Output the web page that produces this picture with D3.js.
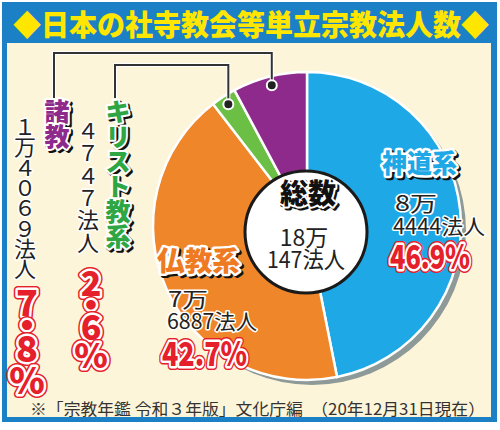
<!DOCTYPE html>
<html>
<head>
<meta charset="utf-8">
<script src="https://cdn.jsdelivr.net/npm/d3@7"></script>
<style>
  body { margin: 0; background: #fff; }
  svg { display: block; font-family: "Noto Sans CJK JP", sans-serif; }
</style>
</head>
<body>
<svg id="chart" width="500" height="430"></svg>
<script>
// data
var categories = ['神道系', '仏教系', 'キリスト教系', '諸教'];
var counts = [84444, 76887, 4747, 14069];
var shares = [46.9, 42.7, 2.6, 7.8];
var total = 180147;
var colors = ['#1ea8e6', '#f0862a', '#6cbf45', '#8e2a8c'];
var catColors = ['#1ea8e6', '#ee7a22', '#2fa644', '#8e2a8c'];

var svg = d3.select('#chart');

// frame
svg.append('rect').attr('x', 2).attr('y', 2).attr('width', 495).attr('height', 420)
  .attr('fill', '#1b80c6');
svg.append('rect').attr('x', 7).attr('y', 43).attr('width', 484).attr('height', 374)
  .attr('fill', '#fdf5da');

svg.append('text')
  .attr('x', 251).attr('y', 36)
  .attr('text-anchor', 'middle')
  .attr('font-size', 29).attr('font-weight', 900)
  .attr('fill', '#ffe600')
  .attr('textLength', 476).attr('lengthAdjust', 'spacingAndGlyphs')
  .text('◆日本の社寺教会等単立宗教法人数◆');

// helpers
function toZen(s) {
  return String(s).replace(/[0-9]/g, function(c) {
    return String.fromCharCode(c.charCodeAt(0) + 0xFEE0);
  });
}
function man(c) { return Math.floor(c / 10000) + '万'; }
function rest(c) { return (c % 10000) + '法人'; }

// layered text: shadow / outline / fill
function label(g, x, y, str, opt) {
  var layers = [];
  if (opt.shadow) layers.push({dx: 2, dy: 2, fill: '#111', stroke: '#111', sw: opt.sw});
  if (opt.outer) layers.push({dx: 0, dy: 0, fill: opt.outer, stroke: opt.outer, sw: opt.sw + 3});
  layers.push({dx: 0, dy: 0, fill: opt.halo || '#fff', stroke: opt.halo || '#fff', sw: opt.sw});
  layers.push({dx: 0, dy: 0, fill: opt.fill, stroke: 'none', sw: 0});
  layers.forEach(function(l) {
    var t = g.append('text')
      .attr('x', x + l.dx).attr('y', y + l.dy)
      .attr('text-anchor', opt.anchor || 'start')
      .attr('dominant-baseline', opt.baseline || 'auto')
      .attr('font-size', opt.size)
      .attr('font-weight', opt.weight || 400)
      .attr('fill', l.fill)
      .attr('stroke', l.stroke)
      .attr('stroke-width', l.sw)
      .attr('stroke-linejoin', 'round')
      .text(str);
    if (opt.len) t.attr('textLength', opt.len).attr('lengthAdjust', 'spacingAndGlyphs');
  });
}

// pie
var cx = 307, cy = 226, r = 154;
var pie = d3.pie().sort(null).value(function(d) { return d; });
var arcs = pie(counts);
var arc = d3.arc().innerRadius(0).outerRadius(r);
var dotArc = d3.arc().innerRadius(145).outerRadius(145);

svg.append('circle').attr('cx', cx + 5).attr('cy', cy + 5).attr('r', r)
  .attr('fill', '#8d9a97');

var pg = svg.append('g').attr('transform', 'translate(' + cx + ',' + cy + ')');
pg.selectAll('path')
  .data(arcs)
  .enter()
  .append('path')
    .attr('d', arc)
    .attr('fill', function(d, i) { return colors[i]; })
    .attr('stroke', '#fff')
    .attr('stroke-width', 2.5);

// leader lines to the two small slices
var leaders = [
  {i: 3, x: 54, top: 53},
  {i: 2, x: 115, top: 65}
];
leaders.forEach(function(l) {
  var c = dotArc.centroid(arcs[l.i]);
  var px = cx + c[0], py = cy + c[1];
  var pts = [[l.x, 98], [l.x, l.top], [px, l.top], [px, py]];
  svg.append('path').attr('d', d3.line()(pts))
    .attr('fill', 'none').attr('stroke', '#fff').attr('stroke-width', 4);
  svg.append('path').attr('d', d3.line()(pts))
    .attr('fill', 'none').attr('stroke', '#333').attr('stroke-width', 2);
  svg.append('circle').attr('cx', px).attr('cy', py).attr('r', 5)
    .attr('fill', '#222').attr('stroke', '#fff').attr('stroke-width', 2);
});

// center circle
svg.append('circle').attr('cx', 306).attr('cy', 232).attr('r', 61)
  .attr('fill', '#fff').attr('stroke', '#1a1a1a').attr('stroke-width', 3);
label(svg, 308, 204, '総数', {size: 28, weight: 900, fill: '#111', shadow: true, sw: 4, anchor: 'middle'});
svg.append('text').attr('x', 304).attr('y', 246).attr('text-anchor', 'middle')
  .attr('font-size', 23).attr('fill', '#222').text(man(total));
svg.append('text').attr('x', 306).attr('y', 268).attr('text-anchor', 'middle')
  .attr('font-size', 23).attr('fill', '#222')
  .attr('textLength', 78).attr('lengthAdjust', 'spacingAndGlyphs')
  .text(rest(total));

var pct = function(v) { return v.toFixed(1) + '%'; };
var redOpt = function(len) {
  return {size: 33, weight: 900, fill: '#e5202a', outer: '#e5202a', sw: 5, len: len};
};

// 神道系
label(svg, 382, 173, categories[0], {size: 26, weight: 900, fill: catColors[0], shadow: true, sw: 5, len: 75});
label(svg, 395, 211, man(counts[0]), {size: 21, fill: '#222', sw: 3, len: 42});
label(svg, 393, 234, rest(counts[0]), {size: 21, fill: '#222', sw: 3, len: 92});
label(svg, 390, 269, pct(shares[0]), redOpt(80));

// 仏教系
label(svg, 157, 271, categories[1], {size: 27, weight: 900, fill: catColors[1], shadow: true, sw: 5, len: 83});
label(svg, 168, 307, man(counts[1]), {size: 21, fill: '#222', sw: 3, len: 40});
label(svg, 167, 329, rest(counts[1]), {size: 21, fill: '#222', sw: 3, len: 90});
label(svg, 162, 366, pct(shares[1]), redOpt(85));

// vertical columns
function column(chars, x, y0, step, opt) {
  chars.forEach(function(ch, k) {
    var o = Object.assign({anchor: 'middle', baseline: 'central'}, opt);
    var yy = Array.isArray(step) ? step[k] : y0 + k * step;
    label(svg, x, yy, ch, o);
  });
}

// 諸教
column(categories[3].split(''), 57, 110, 25,
  {size: 25, weight: 900, fill: catColors[3], shadow: true, sw: 4});
column(toZen(man(counts[3]) + rest(counts[3])).split(''), 25, 125, 20.3,
  {size: 22, fill: '#222', sw: 3});
column(['7', '・', '8', '%'], 27, 0, [300, 323, 346, 378],
  {size: 36, weight: 900, fill: '#e5202a', outer: '#e5202a', sw: 5});

// キリスト教系
column(categories[2].split(''), 118, 110, 25,
  {size: 25, weight: 900, fill: catColors[2], shadow: true, sw: 4});
column(toZen(counts[2] + '法人').split(''), 88, 129, 22.3,
  {size: 22, fill: '#222', sw: 3});
column(['2', '・', '6', '%'], 91, 0, [281, 303, 325, 353],
  {size: 34, weight: 900, fill: '#e5202a', outer: '#e5202a', sw: 5});

// footnote
svg.append('text').attr('x', 30).attr('y', 415)
  .attr('font-size', 16).attr('fill', '#333')
  .attr('textLength', 455).attr('lengthAdjust', 'spacingAndGlyphs')
  .text('※「宗教年鑑 令和３年版」文化庁編　（20年12月31日現在）');
</script>
</body>
</html>
